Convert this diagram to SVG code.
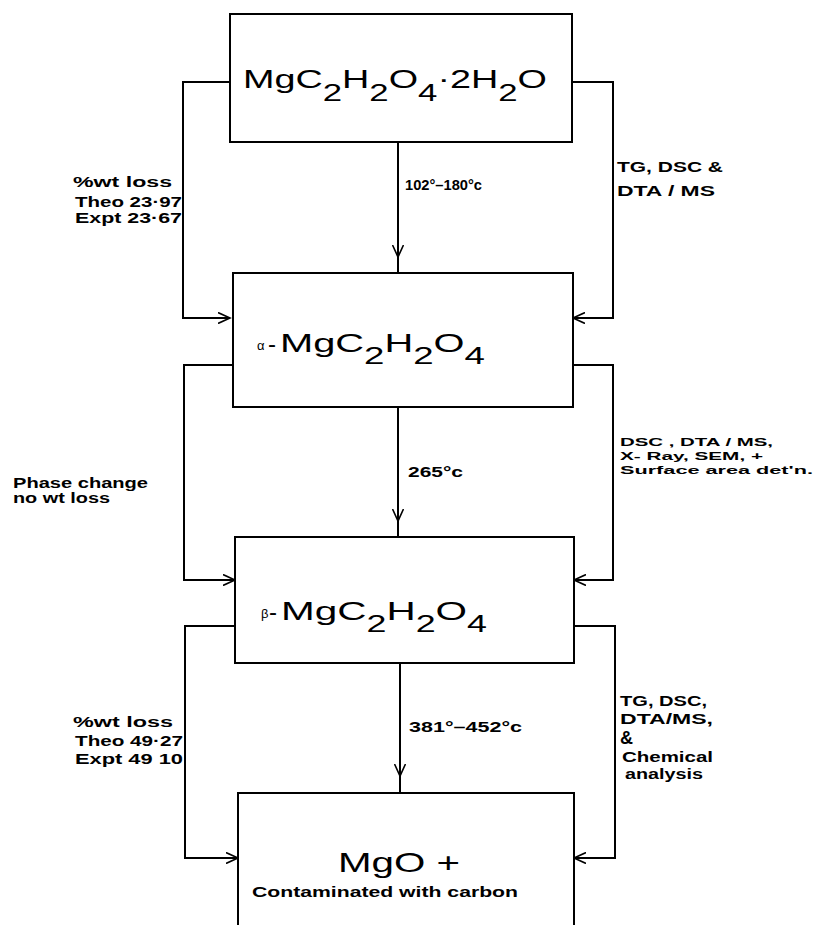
<svg xmlns="http://www.w3.org/2000/svg" width="816" height="925" viewBox="0 0 816 925">
<style>
.box{fill:#fff;stroke:#000;stroke-width:2}
.ln{fill:none;stroke:#000;stroke-width:2}
.f{font-family:"Liberation Sans","DejaVu Sans",sans-serif;fill:#000}
.lbl{font-family:"Liberation Sans","DejaVu Sans",sans-serif;font-weight:bold;font-size:14px;fill:#000}
.sm{font-size:11.5px}
</style>
<defs>
<marker id="ah" markerUnits="userSpaceOnUse" markerWidth="14" markerHeight="12" refX="12" refY="6" orient="auto">
<path d="M0,0.5 L12,6 L0,11.5" fill="none" stroke="#000" stroke-width="1.6"/>
</marker>
</defs>
<rect width="816" height="925" fill="#fff"/>

<g id="connectors">
<path class="ln" d="M230,82 H183 V318 H230" marker-end="url(#ah)"/>
<path class="ln" d="M572,82 H613 V318 H573" marker-end="url(#ah)"/>
<path class="ln" d="M398,142 V257" marker-end="url(#ah)"/>
<path class="ln" d="M398,255 V273"/>
<path class="ln" d="M233,365 H184 V580 H235" marker-end="url(#ah)"/>
<path class="ln" d="M573,365 H613 V580 H574" marker-end="url(#ah)"/>
<path class="ln" d="M398,407 V521" marker-end="url(#ah)"/>
<path class="ln" d="M398,519 V537"/>
<path class="ln" d="M235,626 H185 V858 H238" marker-end="url(#ah)"/>
<path class="ln" d="M574,626 H615 V858 H574" marker-end="url(#ah)"/>
<path class="ln" d="M400,663 V776" marker-end="url(#ah)"/>
<path class="ln" d="M400,774 V793"/>
</g>

<g id="node-hydrate">
<rect class="box" x="230" y="14" width="342" height="128"/>
<text class="f" x="243" y="88" font-size="25" textLength="304" lengthAdjust="spacingAndGlyphs">MgC<tspan font-size="23" dy="13">2</tspan><tspan dy="-13">H</tspan><tspan font-size="23" dy="13">2</tspan><tspan dy="-13">O</tspan><tspan font-size="23" dy="13">4</tspan><tspan dy="-13">·2H</tspan><tspan font-size="23" dy="13">2</tspan><tspan dy="-13">O</tspan></text>
</g>

<g id="node-alpha">
<rect class="box" x="233" y="273" width="340" height="134"/>
<text class="f" x="257" y="350" font-size="13">α</text>
<text class="f" x="268" y="352" font-size="24">-</text>
<text class="f" x="280" y="352" font-size="25" textLength="205" lengthAdjust="spacingAndGlyphs">MgC<tspan font-size="23" dy="12">2</tspan><tspan dy="-12">H</tspan><tspan font-size="23" dy="12">2</tspan><tspan dy="-12">O</tspan><tspan font-size="23" dy="12">4</tspan></text>
</g>

<g id="node-beta">
<rect class="box" x="235" y="537" width="339" height="126"/>
<text class="f" x="261" y="618" font-size="13">β</text>
<text class="f" x="269" y="620" font-size="24">-</text>
<text class="f" x="281" y="620" font-size="26" textLength="206" lengthAdjust="spacingAndGlyphs">MgC<tspan font-size="23" dy="12">2</tspan><tspan dy="-12">H</tspan><tspan font-size="23" dy="12">2</tspan><tspan dy="-12">O</tspan><tspan font-size="23" dy="12">4</tspan></text>
</g>

<g id="node-mgo">
<path class="box" d="M238,930 V793 H574 V930"/>
<text class="f" x="338" y="872" font-size="28" textLength="122" lengthAdjust="spacingAndGlyphs">MgO +</text>
<text class="lbl" x="252" y="897" textLength="266" lengthAdjust="spacingAndGlyphs">Contaminated  with carbon</text>
</g>

<g id="labels">
<text class="lbl" x="405" y="190" textLength="77" lengthAdjust="spacingAndGlyphs">102°–180°c</text>
<text class="lbl" x="408" y="477" textLength="55" lengthAdjust="spacingAndGlyphs">265°c</text>
<text class="lbl" x="409" y="732" textLength="113" lengthAdjust="spacingAndGlyphs">381°–452°c</text>

<text class="lbl" x="73" y="187" textLength="99" lengthAdjust="spacingAndGlyphs">%wt loss</text>
<text class="lbl" x="75" y="207" textLength="107" lengthAdjust="spacingAndGlyphs">Theo  23·97</text>
<text class="lbl" x="75" y="223" textLength="107" lengthAdjust="spacingAndGlyphs">Expt   23·67</text>

<text class="lbl" x="13" y="488" textLength="135" lengthAdjust="spacingAndGlyphs">Phase change</text>
<text class="lbl" x="13" y="503" textLength="97" lengthAdjust="spacingAndGlyphs">no wt loss</text>

<text class="lbl" x="73" y="727" textLength="100" lengthAdjust="spacingAndGlyphs">%wt  loss</text>
<text class="lbl" x="75" y="746" textLength="108" lengthAdjust="spacingAndGlyphs">Theo  49·27</text>
<text class="lbl" x="75" y="764" textLength="108" lengthAdjust="spacingAndGlyphs">Expt   49 10</text>

<text class="lbl" x="617" y="172" textLength="106" lengthAdjust="spacingAndGlyphs">TG, DSC &amp;</text>
<text class="lbl" x="617" y="196" textLength="98" lengthAdjust="spacingAndGlyphs">DTA / MS</text>

<text class="lbl sm" x="620" y="446" textLength="153" lengthAdjust="spacingAndGlyphs">DSC , DTA / MS,</text>
<text class="lbl sm" x="620" y="460" textLength="143" lengthAdjust="spacingAndGlyphs">X- Ray, SEM, +</text>
<text class="lbl sm" x="620" y="474" textLength="193" lengthAdjust="spacingAndGlyphs">Surface  area det'n.</text>

<text class="lbl" x="620" y="706" textLength="87" lengthAdjust="spacingAndGlyphs">TG, DSC,</text>
<text class="lbl" x="620" y="724" textLength="93" lengthAdjust="spacingAndGlyphs">DTA/MS,</text>
<text class="lbl" x="620" y="744" style="font-size:18px" textLength="13" lengthAdjust="spacingAndGlyphs">&amp;</text>
<text class="lbl" x="622" y="762" textLength="91" lengthAdjust="spacingAndGlyphs">Chemical</text>
<text class="lbl" x="625" y="779" textLength="78" lengthAdjust="spacingAndGlyphs">analysis</text>
</g>
</svg>
